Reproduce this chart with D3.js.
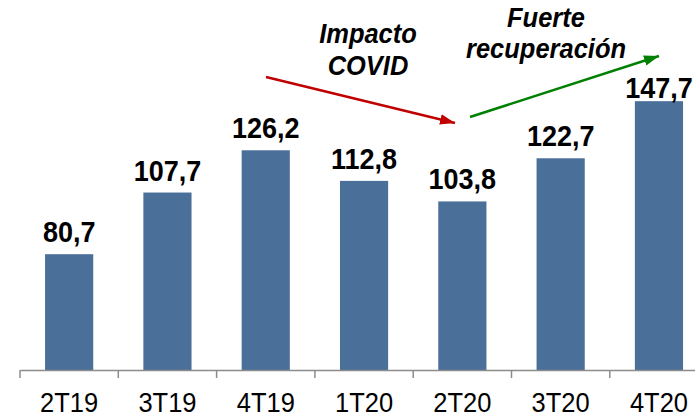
<!DOCTYPE html>
<html><head><meta charset="utf-8">
<script src="https://cdn.jsdelivr.net/npm/d3@7"></script>
<style>body{margin:0;background:#fff}svg{display:block}</style>
</head><body>
<svg id="c" width="695" height="417"></svg>
<script>
const categories = ["2T19","3T19","4T19","1T20","2T20","3T20","4T20"];
const values = [80.7,107.7,126.2,112.8,103.8,122.7,147.7];
const valueLabels = ["80,7","107,7","126,2","112,8","103,8","122,7","147,7"];
const annotations = [["Impacto","COVID"],["Fuerte","recuperación"]];

const svg = d3.select("#c");
const font = "'Liberation Sans', Arial, sans-serif";
const x = d3.scaleBand().domain(categories).range([20, 20 + 98.3*7]).paddingInner(0.51).paddingOuter(0.255);
const y = d3.scaleLinear().domain([30, 180]).range([370, 27.4]);

svg.selectAll("rect.bar").data(values).enter().append("rect")
  .attr("x",(d,i)=>x(categories[i]))
  .attr("width",x.bandwidth())
  .attr("y",d=>y(d))
  .attr("height",d=>y(30)-y(d))
  .attr("fill","#4a6f99");

const ax = svg.append("g").attr("transform","translate(0,370)")
  .call(d3.axisBottom(x).tickSize(0).tickPadding(0));
ax.select(".domain").attr("stroke","#8c8c8c").attr("stroke-width",1.5);
ax.selectAll("text").remove();
const step = x.step();
d3.range(0, categories.length+1).forEach(i=>{
  ax.append("line").attr("x1",20+i*step).attr("x2",20+i*step).attr("y1",0).attr("y2",8)
    .attr("stroke","#8c8c8c").attr("stroke-width",1.5);
});
svg.selectAll("text.cat").data(categories).enter().append("text")
  .attr("transform",d=>`translate(${x(d)+x.bandwidth()/2},412) scale(1,1.1)`)
  .attr("text-anchor","middle").attr("font-family",font).attr("font-size",25.5)
  .attr("fill","#000").text(d=>d);

svg.selectAll("text.val").data(values).enter().append("text")
  .attr("transform",(d,i)=>`translate(${x(categories[i])+x.bandwidth()/2},${Math.max(y(d)-12, 98)}) scale(1,1.1)`)
  .attr("text-anchor","middle").attr("font-family",font).attr("font-size",27)
  .attr("font-weight","bold").attr("fill","#000").text((d,i)=>valueLabels[i]);

const defs = svg.append("defs");
[["r","#c00000"],["g","#008000"]].forEach(([id,c])=>{
  defs.append("marker").attr("id","m"+id).attr("viewBox","0 0 10 10").attr("refX",10).attr("refY",5)
    .attr("markerWidth",6).attr("markerHeight",6).attr("markerUnits","strokeWidth").attr("orient","auto")
    .append("path").attr("d","M0,1.5L10,5L0,8.5z").attr("fill",c);
});
svg.append("line").attr("x1",266).attr("y1",77).attr("x2",455).attr("y2",123)
  .attr("stroke","#c00000").attr("stroke-width",2.5).attr("marker-end","url(#mr)");
svg.append("line").attr("x1",470).attr("y1",117).attr("x2",659).attr("y2",56)
  .attr("stroke","#008000").attr("stroke-width",2.5).attr("marker-end","url(#mg)");

const ann = [[368,[43,75]],[546,[27,58]]];
annotations.forEach((lines,k)=>{
  lines.forEach((t,j)=>{
    svg.append("text").attr("transform",`translate(${ann[k][0]},${ann[k][1][j]}) scale(1,1.1)`).attr("text-anchor","middle")
      .attr("font-family",font).attr("font-size",25.5).attr("font-weight","bold").attr("font-style","italic")
      .attr("fill","#000").text(t);
  });
});
</script>
</body></html>
